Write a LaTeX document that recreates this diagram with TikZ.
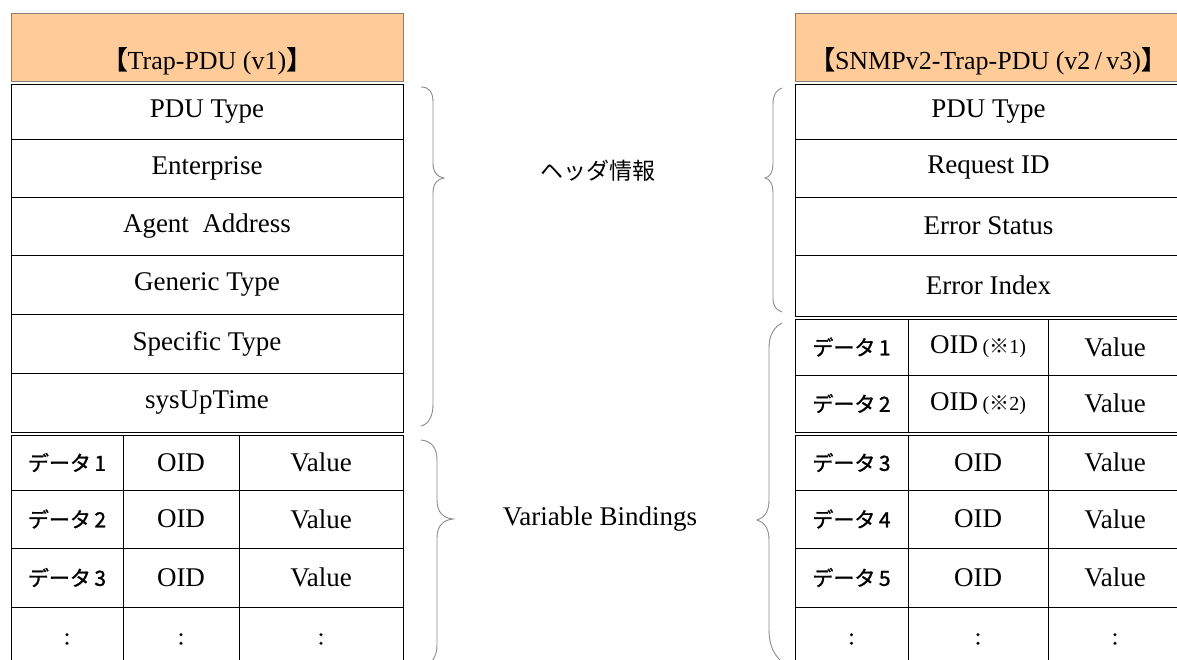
\documentclass[tikz,border=0pt]{standalone}
\usepackage{fontspec}
\setmainfont{Liberation Serif}
\newfontfamily\cjk{Noto Sans CJK JP}
\newfontfamily\cjkb[FakeBold=1.2]{Noto Sans CJK JP}
\definecolor{hdrorange}{HTML}{FFCC99}
\definecolor{bracegray}{HTML}{8C8C8C}
\definecolor{framegray}{HTML}{7F7F7F}
\newcommand\cellbox[6]{\node[cellbox, minimum width={(#4-#2)*1pt}, minimum height={(#5-#3)*1pt}] (#1) at ({(#2+#4)/2},{(#3+#5)/2}) {#6};}
\newcommand\jcellbox[6]{\node[cellbox, jp, minimum width={(#4-#2)*1pt}, minimum height={(#5-#3)*1pt}] (#1) at ({(#2+#4)/2},{(#3+#5)/2}) {#6};}
\newcommand\dotsbox[5]{\node[cellbox, minimum width={(#4-#2)*1pt}, minimum height={(#5-#3)*1pt}] (#1) at ({(#2+#4)/2},{(#3+#5)/2}) {};
  \node[jp] (#1t) at ({(#2+#4)/2},639) {:};}
\newcommand\oidnote[1]{OID\,{\fontsize{20}{22}\selectfont({\cjk ※}#1)}}
\begin{document}
\begin{tikzpicture}[x=1pt,y=-1pt,
  cellbox/.style={draw=black, line width=0.9pt, inner sep=0pt, font=\fontsize{27}{30}\selectfont},
  jp/.style={font=\cjkb\fontsize{21}{24}\selectfont},
  hdrbox/.style={draw=framegray, fill=hdrorange, line width=0.9pt, inner sep=0pt},
  hdrtext/.style={inner sep=0pt, font=\fontsize{26}{30}\selectfont},
  lbl/.style={inner sep=0pt, font=\fontsize{27}{30}\selectfont},
  bracestyle/.style={draw=bracegray, line width=0.9pt}]
\useasboundingbox (0,0) rectangle (1177,660);
\fill[white] (0,0) rectangle (1177,660);

% ---------- left table (v1) ----------
\node[hdrbox, minimum width=392pt, minimum height=68.5pt] (hdrLbox) at (207,47.25) {};
\node[hdrtext] (hdrL) at (207,61) {{\cjkb 【}Trap-PDU (v1){\cjkb 】}};
\cellbox{L1}{11}{84.5}{403}{139}{PDU Type}
\cellbox{L2}{11}{139}{403}{197}{Enterprise}
\cellbox{L3}{11}{197}{403}{255}{Agent\ \ Address}
\cellbox{L4}{11}{255}{403}{314}{Generic Type}
\cellbox{L5}{11}{314}{403}{373}{Specific Type}
\cellbox{L6}{11}{373}{403}{432}{sysUpTime}

\jcellbox{LD1}{11}{435}{123}{490}{データ\,1}
\cellbox{LO1}{123}{435}{239}{490}{OID}
\cellbox{LV1}{239}{435}{403}{490}{Value}
\jcellbox{LD2}{11}{490}{123}{548}{データ\,2}
\cellbox{LO2}{123}{490}{239}{548}{OID}
\cellbox{LV2}{239}{490}{403}{548}{Value}
\jcellbox{LD3}{11}{548}{123}{607}{データ\,3}
\cellbox{LO3}{123}{548}{239}{607}{OID}
\cellbox{LV3}{239}{548}{403}{607}{Value}
\dotsbox{LD4}{11}{607}{123}{668}
\dotsbox{LO4}{123}{607}{239}{668}
\dotsbox{LV4}{239}{607}{403}{668}

% ---------- right table (v2/v3) ----------
\node[hdrbox, minimum width=387pt, minimum height=68.5pt] (hdrRbox) at (988.5,47.25) {};
\node[hdrtext] (hdrR) at (988,61) {{\cjkb 【}SNMPv2-Trap-PDU (v2\,/\,v3){\cjkb 】}};
\cellbox{R1}{795}{84.5}{1182}{139}{PDU Type}
\cellbox{R2}{795}{139}{1182}{197}{Request ID}
\cellbox{R3}{795}{197}{1182}{255}{Error Status}
\cellbox{R4}{795}{255}{1182}{316}{Error Index}

\jcellbox{RD1}{795}{319}{908}{375}{データ\,1}
\cellbox{RO1}{908}{319}{1048}{375}{\oidnote{1}}
\cellbox{RV1}{1048}{319}{1182}{375}{Value}
\jcellbox{RD2}{795}{375}{908}{432}{データ\,2}
\cellbox{RO2}{908}{375}{1048}{432}{\oidnote{2}}
\cellbox{RV2}{1048}{375}{1182}{432}{Value}
\jcellbox{RD3}{795}{435}{908}{490}{データ\,3}
\cellbox{RO3}{908}{435}{1048}{490}{OID}
\cellbox{RV3}{1048}{435}{1182}{490}{Value}
\jcellbox{RD4}{795}{490}{908}{548}{データ\,4}
\cellbox{RO4}{908}{490}{1048}{548}{OID}
\cellbox{RV4}{1048}{490}{1182}{548}{Value}
\jcellbox{RD5}{795}{548}{908}{607}{データ\,5}
\cellbox{RO5}{908}{548}{1048}{607}{OID}
\cellbox{RV5}{1048}{548}{1182}{607}{Value}
\dotsbox{RD6}{795}{607}{908}{668}
\dotsbox{RO6}{908}{607}{1048}{668}
\dotsbox{RV6}{1048}{607}{1182}{668}

% ---------- labels ----------
\node[inner sep=0pt, font=\cjk\fontsize{23}{26}\selectfont] (hdrinfo) at (598,171) {ヘッダ情報};
\node[lbl] (varbind) at (600,519) {Variable Bindings};

% ---------- braces ----------
\coordinate (tipLH) at (444,178);
\coordinate (tipRH) at (765,178);
\coordinate (tipLV) at (453,519);
\coordinate (tipRV) at (757,520);
\draw[bracestyle] (421,87) .. controls (429,87) and (433,92) .. (433,102) -- (433,163)
  .. controls (433,172) and (437,177) .. (tipLH)
  .. controls (437,179) and (433,184) .. (433,193) -- (433,404)
  .. controls (433,416) and (429,424) .. (421,426);
\draw[bracestyle] (782,88) .. controls (776,90) and (773,95) .. (773,104) -- (773,163)
  .. controls (773,172) and (770,177) .. (tipRH)
  .. controls (770,179) and (773,184) .. (773,193) -- (773,298)
  .. controls (773,306) and (776,310) .. (782,312);
\draw[bracestyle] (421,440) .. controls (431,441) and (437,447) .. (437,460) -- (437,500)
  .. controls (437,512) and (443,518) .. (tipLV)
  .. controls (443,520) and (437,526) .. (437,538) -- (437,645)
  .. controls (437,655) and (433,662) .. (425,668);
\draw[bracestyle] (782,323) .. controls (774,327) and (769,335) .. (769,348) -- (769,500)
  .. controls (769,512) and (764,518) .. (tipRV)
  .. controls (764,522) and (769,528) .. (769,540) -- (769,630)
  .. controls (769,645) and (774,655) .. (782,662);
\end{tikzpicture}
\end{document}
